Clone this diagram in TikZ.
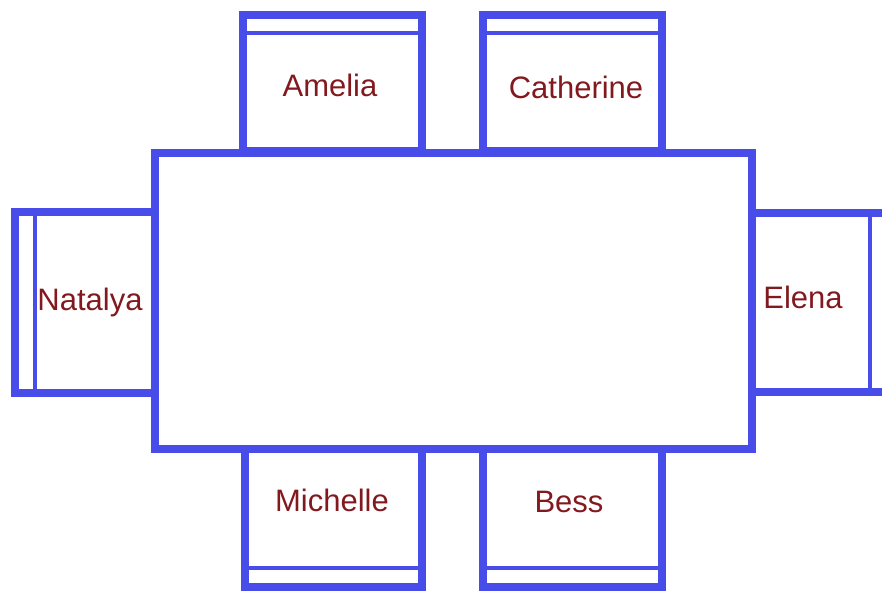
\documentclass[tikz,border=0pt]{standalone}
\usepackage{fontspec}
\setmainfont{Liberation Sans}
\definecolor{chairblue}{RGB}{72,76,232}
\definecolor{namered}{RGB}{130,25,30}
\begin{document}
\begin{tikzpicture}[x=1pt,y=-1pt,
  outline/.style={draw=chairblue,line width=7.5pt},
  backrest/.style={draw=chairblue,line width=4pt},
  guestname/.style={text=namered,font=\fontsize{31}{36}\selectfont,inner sep=0pt}]
\useasboundingbox (0,0) rectangle (882,594);
\clip (0,0) rectangle (882,594);
% chairs
\draw[outline] (243,15) rectangle (422,151);
\draw[backrest] (243,33) -- (422,33);
\draw[outline] (483,15) rectangle (662,151);
\draw[backrest] (483,33) -- (662,33);
\draw[outline] (15,212) rectangle (155,393);
\draw[backrest] (35,212) -- (35,393);
\draw[outline] (752,213) rectangle (894,392);
\draw[backrest] (870,213) -- (870,392);
\draw[outline] (245,449) rectangle (422,587);
\draw[backrest] (245,568) -- (422,568);
\draw[outline] (483,449) rectangle (662,587);
\draw[backrest] (483,568) -- (662,568);
% table
\draw[outline,fill=white] (155,153) rectangle (752,449);
% names
\node[guestname] (amelia) at (330,85) {Amelia};
\node[guestname] (catherine) at (576,87) {Catherine};
\node[guestname] (natalya) at (90,302) {Natalya};
\node[guestname] (elena) at (803,297) {Elena};
\node[guestname] (michelle) at (332,500) {Michelle};
\node[guestname] (bess) at (569,502) {Bess};
\end{tikzpicture}
\end{document}
